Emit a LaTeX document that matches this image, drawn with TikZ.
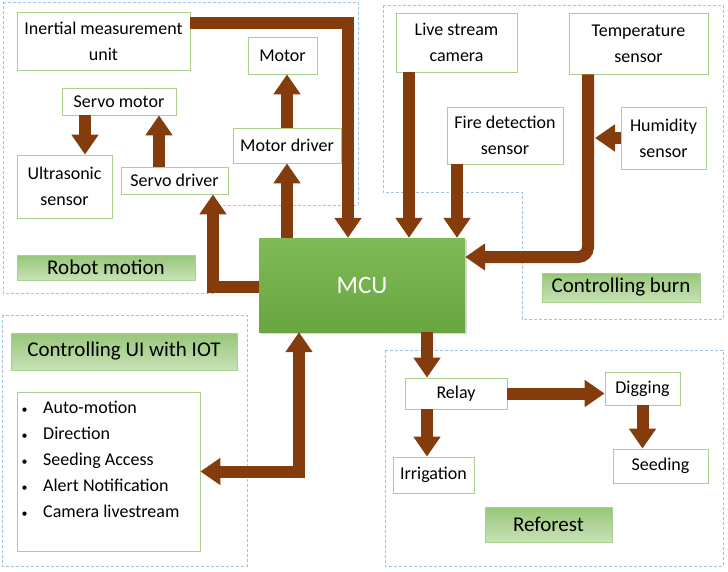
\documentclass[tikz,border=0pt]{standalone}
\usepackage{fontspec}
\setmainfont{Carlito}
\usetikzlibrary{arrows.meta,shadows}
\definecolor{arrowbrown}{RGB}{132,60,12}
\definecolor{boxgreen}{RGB}{169,209,142}
\definecolor{tagtop}{RGB}{150,198,120}
\definecolor{tagbottom}{RGB}{200,226,183}
\definecolor{mcutop}{RGB}{128,186,88}
\definecolor{mcubottom}{RGB}{104,166,64}
\definecolor{groupblue}{RGB}{157,195,230}
\newcommand{\uibullet}{\makebox[9pt]{\fontsize{12}{12}\selectfont\textbullet}\hspace{14pt}}
\begin{document}
\begin{tikzpicture}[x=1pt,y=-1pt]
\tikzstyle{block} = [draw=boxgreen, fill=white, line width=0.8pt, inner sep=0pt, align=center, font=\fontsize{18}{26}\selectfont];
\tikzstyle{tag} = [draw=boxgreen, top color=tagtop, bottom color=tagbottom, inner sep=0pt, font=\fontsize{21}{24}\selectfont];
\tikzstyle{group} = [draw=groupblue, line width=0.7pt, dash pattern=on 3pt off 2pt];
\tikzstyle{flow} = [draw=arrowbrown, line width=12pt, -{Triangle[width=26pt,length=20pt]}];
\tikzstyle{dflow} = [draw=arrowbrown, line width=12pt, {Triangle[width=26pt,length=20pt]}-{Triangle[width=26pt,length=20pt]}];
\useasboundingbox (0,0) rectangle (728,572);
% dashed groups
\draw[group] (3,2) -- (358,2) -- (358,205) -- (213,205) -- (213,293) -- (3,293) -- cycle;
\draw[group] (383,5) -- (723,5) -- (723,319) -- (522,319) -- (522,192) -- (383,192) -- cycle;
\draw[group] (2,315) rectangle (247,566);
\draw[group] (385,350) rectangle (723,566);
% robot motion
\node[block, minimum width=173pt, minimum height=58pt] (imu) at (103.5,41) {Inertial measurement\\unit};
\node[block, minimum width=69pt, minimum height=37pt] (motor) at (282.5,55.5) {Motor};
\node[block, minimum width=114pt, minimum height=27pt] (servom) at (119,101.5) {Servo motor};
\node[block, minimum width=95pt, minimum height=63pt] (ultra) at (64.5,186.5) {Ultrasonic\\sensor};
\node[block, minimum width=107pt, minimum height=27pt] (servod) at (174.5,180.5) {Servo driver};
\node[block, minimum width=108pt, minimum height=35pt] (motord) at (287,145.5) {Motor driver};
\node[tag, minimum width=178pt, minimum height=25pt] (robot) at (106,267.5) {Robot motion};
% controlling burn
\node[block, minimum width=121pt, minimum height=59pt] (live) at (456.5,42.5) {Live stream\\camera};
\node[block, minimum width=139pt, minimum height=61pt] (temp) at (638.5,43.5) {Temperature\\sensor};
\node[block, minimum width=116pt, minimum height=57pt] (fire) at (505,135.5) {Fire detection\\sensor};
\node[block, minimum width=85pt, minimum height=62pt] (humid) at (663.5,138) {Humidity\\sensor};
\node[tag, minimum width=158pt, minimum height=29pt] (burn) at (621,287.5) {Controlling burn};
% controlling UI
\node[tag, minimum width=226pt, minimum height=37pt] (ui) at (124,351.5) {Controlling UI with IOT};
\node[block, minimum width=183pt, minimum height=159pt] (uilist) at (108.5,471.5) {};
\node[anchor=base west, align=left, inner sep=0pt, font=\fontsize{18}{26}\selectfont] (uitext) at (20,517)
  {\uibullet Auto-motion\\\uibullet Direction\\\uibullet Seeding Access\\\uibullet Alert Notification\\\uibullet Camera livestream};
% reforest
\node[block, minimum width=102pt, minimum height=31pt] (relay) at (456,393.5) {Relay};
\node[block, minimum width=75pt, minimum height=33pt] (digging) at (642.5,388.5) {Digging};
\node[block, minimum width=81pt, minimum height=36pt] (irrig) at (433.5,475) {Irrigation};
\node[block, minimum width=95pt, minimum height=34pt] (seeding) at (660.5,466) {Seeding};
\node[tag, minimum width=127pt, minimum height=35pt] (reforest) at (548.5,524.5) {Reforest};
% MCU
\node[top color=mcutop, bottom color=mcubottom, text=white, minimum width=206pt, minimum height=94pt, font=\fontsize{25}{28}\selectfont, drop shadow={opacity=0.3, shadow xshift=2pt, shadow yshift=-2pt}] (mcu) at (362,285) {MCU};
% arrows
\draw[flow] ([yshift=18pt]imu.east) -| ([xshift=-14pt]mcu.north);
\draw[flow] (motord.north) -- (motord.north |- motor.south);
\draw[flow] (mcu.north -| motord) -- (motord.south);
\draw[flow] ([xshift=-34pt]servom.south) -- ([xshift=-34pt]servom.south |- ultra.north);
\draw[flow] ([xshift=-15.5pt]servod.north) -- ([xshift=-15.5pt]servod.north |- servom.south);
\draw[flow] ([yshift=-2pt]mcu.west) -| ([xshift=38.5pt]servod.south);
\draw[flow] ([xshift=-47.5pt]live.south) -- ([xshift=-47.5pt]live.south |- mcu.north);
\draw[flow] ([xshift=-48pt]fire.south) -- ([xshift=-48pt]fire.south |- mcu.north);
\draw[flow, rounded corners=10pt] ([xshift=-50.5pt]temp.south) |- ([yshift=28pt]mcu.east);
\coordinate (hjoin) at (595,138);
\draw[flow] (humid.west) -- (hjoin);
\draw[dflow] ([xshift=-63pt]mcu.south) |- (uilist.east);
\draw[flow] ([xshift=65pt]mcu.south) -- ([xshift=65pt]mcu.south |- relay.north);
\draw[flow] ([xshift=-29pt]relay.south) -- ([xshift=-29pt]relay.south |- irrig.north);
\draw[flow] (relay.east) -- (relay.east -| digging.west);
\draw[flow] (digging.south) -- (digging.south |- seeding.north);
\end{tikzpicture}
\end{document}
